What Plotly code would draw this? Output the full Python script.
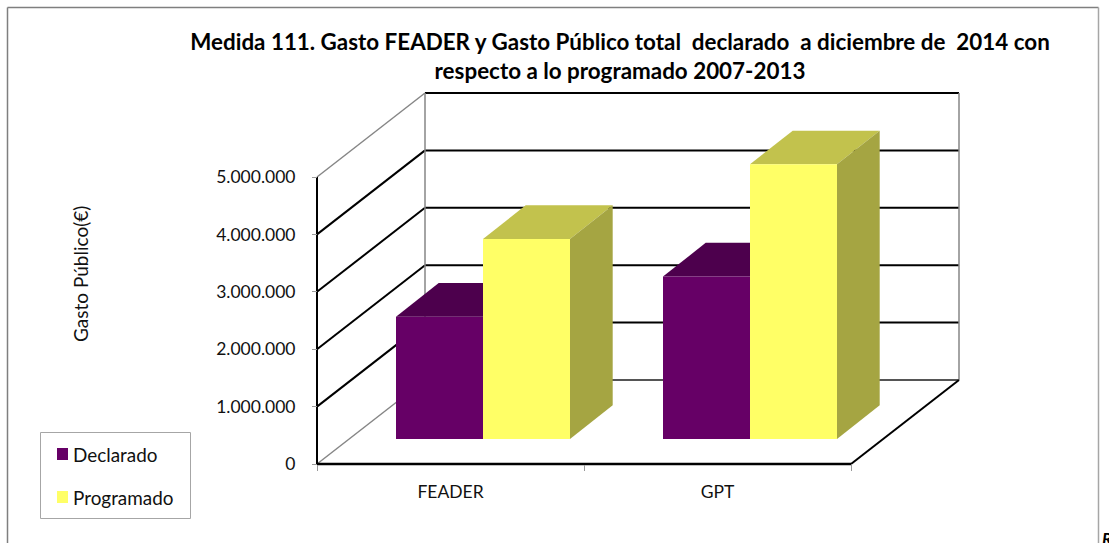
import plotly.graph_objects as go

# ---- data ----
categories = ["FEADER", "GPT"]
declarado = [2130000, 2830000]
programado = [3484000, 4785000]
series_names = ["Declarado", "Programado"]
y_ticks = [0, 1000000, 2000000, 3000000, 4000000, 5000000]
title_text = ("Medida 111. Gasto FEADER y Gasto Público total\u00a0 declarado\u00a0 a diciembre de\u00a0 2014 con"
              "<br>respecto a lo programado 2007-2013")
y_title = "Gasto Público(€)"

# ---- scene geometry (data units) ----
W, H = 1109, 543
X0_PX, Y0_PX = 317, 464
X_UNIT = 267.0           # px per category
Y_UNIT = 57.4 / 1e6      # px per euro
wall_dx, wall_dy = 108 / X_UNIT, 84 / Y_UNIT
bar_front_dx, bar_front_dy = 32.5 / X_UNIT, 25 / Y_UNIT
bar_depth_dx, bar_depth_dy = 42.7 / X_UNIT, 33.7 / Y_UNIT
bar_w = 87 / X_UNIT
top_wall = y_ticks[-1]
x_end = len(categories)

FONT = "Lato, Carlito, Calibri, sans-serif"
PURPLE, PURPLE_TOP, PURPLE_SIDE = "#660066", "#4D004D", "#520052"
YELLOW, YELLOW_TOP, YELLOW_SIDE = "#FFFF66", "#C2C24D", "#A5A542"

fig = go.Figure()


def face(xs, ys, color, name):
    fig.add_trace(go.Scatter(x=xs, y=ys, mode="lines", fill="toself", fillcolor=color, name=name,
                             line=dict(width=0, color=color), hoverinfo="skip", showlegend=False))


def draw_bar(i, value, side, front, top, lateral, name):
    left = i + 0.5 + bar_front_dx + (bar_w * (side - 1))
    right = left + bar_w
    base = bar_front_dy
    vtop = base + value
    face([left, right, right + bar_depth_dx, left + bar_depth_dx, left],
         [vtop, vtop, vtop + bar_depth_dy, vtop + bar_depth_dy, vtop], top, name)
    face([right, right + bar_depth_dx, right + bar_depth_dx, right, right],
         [base, base + bar_depth_dy, vtop + bar_depth_dy, vtop, base], lateral, name)
    face([left, right, right, left, left], [base, base, vtop, vtop, base], front, name)


for i, (d, p) in enumerate(zip(declarado, programado)):
    draw_bar(i, d, 0, PURPLE, PURPLE_TOP, PURPLE_SIDE, series_names[0])
    draw_bar(i, p, 1, YELLOW, YELLOW_TOP, YELLOW_SIDE, series_names[1])

# ---- walls and grid ----
shapes = []


def line(x0, y0, x1, y1, color="#000000", width=2):
    shapes.append(dict(type="line", xref="x", yref="y", x0=x0, y0=y0, x1=x1, y1=y1,
                       layer="below", line=dict(color=color, width=width)))


GREY = "#868686"
for v in y_ticks:
    edge = v in (y_ticks[0], y_ticks[-1])
    line(0, v, wall_dx, v + wall_dy, GREY if edge else "#000000", 1.5 if edge else 2)
    line(wall_dx, v + wall_dy, x_end + wall_dx, v + wall_dy, "#555555" if v == 0 else "#000000", 2)
line(wall_dx, wall_dy, wall_dx, top_wall + wall_dy, GREY, 1.5)
line(x_end + wall_dx, wall_dy, x_end + wall_dx, top_wall + wall_dy, GREY, 1.5)
line(0, 0, 0, top_wall, "#000000", 2)
line(0, 0, x_end, 0, "#000000", 2.5)
line(x_end, 0, x_end + wall_dx, wall_dy, "#000000", 2)

# outer frame of the picture
for x0, y0, x1, y1, c in [(7.5, 7.5, 1098.5, 7.5, "#7F7F7F"),
                          (7.5, 7.5, 7.5, H, "#7F7F7F"),
                          (1098.5, 7.5, 1098.5, H, "#A6A6A6")]:
    shapes.append(dict(type="line", xref="paper", yref="paper", x0=x0 / W, x1=x1 / W,
                       y0=1 - y0 / H, y1=1 - y1 / H, layer="below", line=dict(color=c, width=1.5)))

# legend box and swatches
shapes.append(dict(type="rect", xref="paper", yref="paper", x0=40.5 / W, x1=190.5 / W,
                   y0=1 - 432.5 / H, y1=1 - 518.5 / H, layer="below",
                   fillcolor="white", line=dict(color="#A6A6A6", width=1)))
legend_rows = [454, 497]
legend_notes = []
for name, color, row in zip(series_names, [PURPLE, YELLOW], legend_rows):
    shapes.append(dict(type="rect", xref="paper", yref="paper", x0=57 / W, x1=68 / W,
                       y0=1 - (row - 6) / H, y1=1 - (row + 6) / H, layer="below",
                       fillcolor=color, line=dict(width=0)))
    legend_notes.append(dict(text=name, xref="paper", yref="paper", x=73 / W, y=1 - row / H,
                             showarrow=False, xanchor="left", yanchor="middle", xshift=-2,
                             font=dict(size=18.9, color="#111111")))

fig.update_layout(
    width=W, height=H, margin=dict(l=0, r=0, t=0, b=0),
    paper_bgcolor="white", plot_bgcolor="rgba(0,0,0,0)",
    separators=",.", font=dict(family=FONT, size=16, color="#111111"),
    title=dict(text=title_text, x=620 / W, xanchor="center", y=1 - 50 / H, yanchor="middle",
               yref="container", font=dict(family=FONT, size=22.4, color="#000000", weight="bold")),
    xaxis=dict(range=[-X0_PX / X_UNIT, (W - X0_PX) / X_UNIT], domain=[0, 1], anchor="free",
               position=(H - Y0_PX) / H, showgrid=False, zeroline=False, showline=False,
               tickmode="array", tickvals=[i + 0.5 for i in range(len(categories))], ticktext=categories,
               ticks="", ticklabelstandoff=15, tickfont=dict(size=17.5),
               minor=dict(tickmode="array", tickvals=list(range(x_end + 1)), ticks="outside",
                          ticklen=6, tickwidth=1, tickcolor="#999999", showgrid=False)),
    yaxis=dict(range=[-(H - Y0_PX) / Y_UNIT, Y0_PX / Y_UNIT], domain=[0, 1], anchor="free",
               position=X0_PX / W, showgrid=False, zeroline=False, showline=False,
               tickmode="array", tickvals=y_ticks, tickformat=",d", ticks="outside", ticklen=5,
               tickwidth=1, tickcolor="#999999", ticklabelstandoff=13, tickfont=dict(size=17.5)),
    showlegend=False, shapes=shapes,
    annotations=legend_notes + [
        dict(text=y_title, xref="paper", yref="paper", x=80 / W, y=1 - 274 / H, textangle=-90,
             showarrow=False, xanchor="center", yanchor="middle", font=dict(size=19)),
        dict(text="<b><i>R</i></b>", xref="paper", yref="paper", x=1100 / W, y=1 - 526 / H,
             showarrow=False, xanchor="left", yanchor="top", font=dict(size=17, color="#000000")),
    ],
)

fig.write_html("out.html", config=dict(displayModeBar=False),
               post_script="document.body.style.margin='0';document.body.style.overflow='hidden';")
